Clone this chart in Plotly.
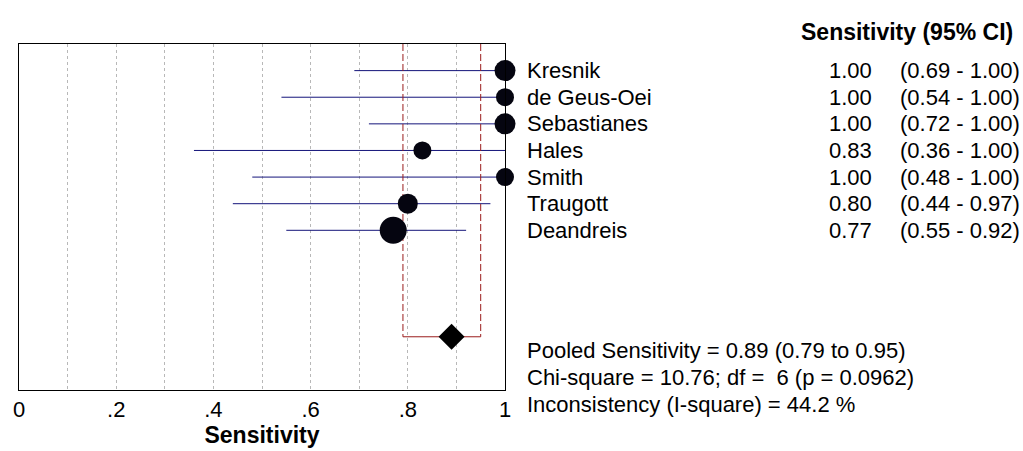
import plotly.graph_objects as go

studies = ["Kresnik", "de Geus-Oei", "Sebastianes", "Hales", "Smith", "Traugott", "Deandreis"]
sens = [1.00, 1.00, 1.00, 0.83, 1.00, 0.80, 0.77]
ci_lo = [0.69, 0.54, 0.72, 0.36, 0.48, 0.44, 0.55]
ci_hi = [1.00, 1.00, 1.00, 1.00, 1.00, 0.97, 0.92]
weights = [21, 18, 21, 18, 18, 20, 27]
pooled = 0.89
pooled_lo = 0.79
pooled_hi = 0.95
stats_lines = [
    "Pooled Sensitivity = 0.89 (0.79 to 0.95)",
    "Chi-square = 10.76; df =  6 (p = 0.0962)",
    "Inconsistency (I-square) = 44.2 %",
]
tick_vals = [0, 0.2, 0.4, 0.6, 0.8, 1.0]
tick_text = ["0", ".2", ".4", ".6", ".8", "1"]

rows = list(range(1, len(studies) + 1))
pooled_row = 11
NROWS = 13
FONT = "Arial, Liberation Sans, sans-serif"
FS = 22

fig = go.Figure()

# CI lines
lx, ly = [], []
for r, lo, hi in zip(rows, ci_lo, ci_hi):
    lx += [lo, hi, None]
    ly += [r, r, None]
fig.add_trace(go.Scatter(x=lx, y=ly, mode="lines", line=dict(color="#14147a", width=1),
                         hoverinfo="skip", showlegend=False, cliponaxis=False))

# Pooled CI dashed verticals + horizontal
fig.add_trace(go.Scatter(x=[pooled_lo, pooled_lo, None, pooled_hi, pooled_hi],
                         y=[0, pooled_row, None, 0, pooled_row], mode="lines",
                         line=dict(color="#9a1c1c", width=1, dash="7px,3px"),
                         hoverinfo="skip", showlegend=False))
fig.add_trace(go.Scatter(x=[pooled_lo, pooled_hi], y=[pooled_row, pooled_row], mode="lines",
                         line=dict(color="#9a1c1c", width=1),
                         hoverinfo="skip", showlegend=False))

# Study points
fig.add_trace(go.Scatter(x=sens, y=rows, mode="markers",
                         marker=dict(color="#050510", size=weights, opacity=1, line=dict(width=0)),
                         showlegend=False, cliponaxis=False))
# Pooled diamond
fig.add_trace(go.Scatter(x=[pooled], y=[pooled_row], mode="markers",
                         marker=dict(color="black", symbol="diamond", size=20, opacity=1,
                                     line=dict(width=0)),
                         showlegend=False, cliponaxis=False))

ann = []
ann.append(dict(x=1.0, xref="paper", xanchor="right", xshift=510, y=1.0346, yref="paper",
                yanchor="middle", text="<b>Sensitivity (95% CI)</b>", showarrow=False,
                font=dict(size=23)))
for r, s, sv, lo, hi in zip(rows, studies, sens, ci_lo, ci_hi):
    ann.append(dict(x=1.0, xref="paper", xanchor="left", xshift=20, y=r, yref="y",
                    text=s, showarrow=False, font=dict(size=FS)))
    ann.append(dict(x=1.0, xref="paper", xanchor="right", xshift=369, y=r, yref="y",
                    text=f"{sv:.2f}", showarrow=False, font=dict(size=FS)))
    ann.append(dict(x=1.0, xref="paper", xanchor="right", xshift=517, y=r, yref="y",
                    text=f"({lo:.2f} - {hi:.2f})", showarrow=False, font=dict(size=FS)))
stat_rows = [11.51, 12.53, 13.55]
for r, t in zip(stat_rows, stats_lines):
    ann.append(dict(x=1.0, xref="paper", xanchor="left", xshift=20, y=1 - r / NROWS,
                    yref="paper", yanchor="middle", text=t, showarrow=False,
                    font=dict(size=FS)))

fig.update_layout(
    width=1023, height=451,
    margin=dict(l=19, r=518, t=44, b=61, autoexpand=False),
    paper_bgcolor="white", plot_bgcolor="white",
    font=dict(family=FONT, color="black", size=FS),
    annotations=ann,
    xaxis=dict(range=[0, 1], tickvals=tick_vals, ticktext=tick_text, ticks="",
               showgrid=True, griddash="3px,3px", gridcolor="#b8b8b8", gridwidth=1,
               minor=dict(tickvals=[0.1, 0.3, 0.5, 0.7, 0.9], showgrid=True,
                          griddash="3px,3px", gridcolor="#b8b8b8", gridwidth=1),
               showline=True, linecolor="black", linewidth=1, mirror=True, zeroline=False,
               title=dict(text="<b>Sensitivity</b>", standoff=0, font=dict(size=23)),
               tickfont=dict(size=FS)),
    yaxis=dict(range=[NROWS, 0], showticklabels=False, ticks="", showgrid=False,
               zeroline=False, showline=True, linecolor="black", linewidth=1, mirror=True),
)

fig.write_html("out.html", config={"displayModeBar": False},
               post_script="document.body.style.margin='0';")
